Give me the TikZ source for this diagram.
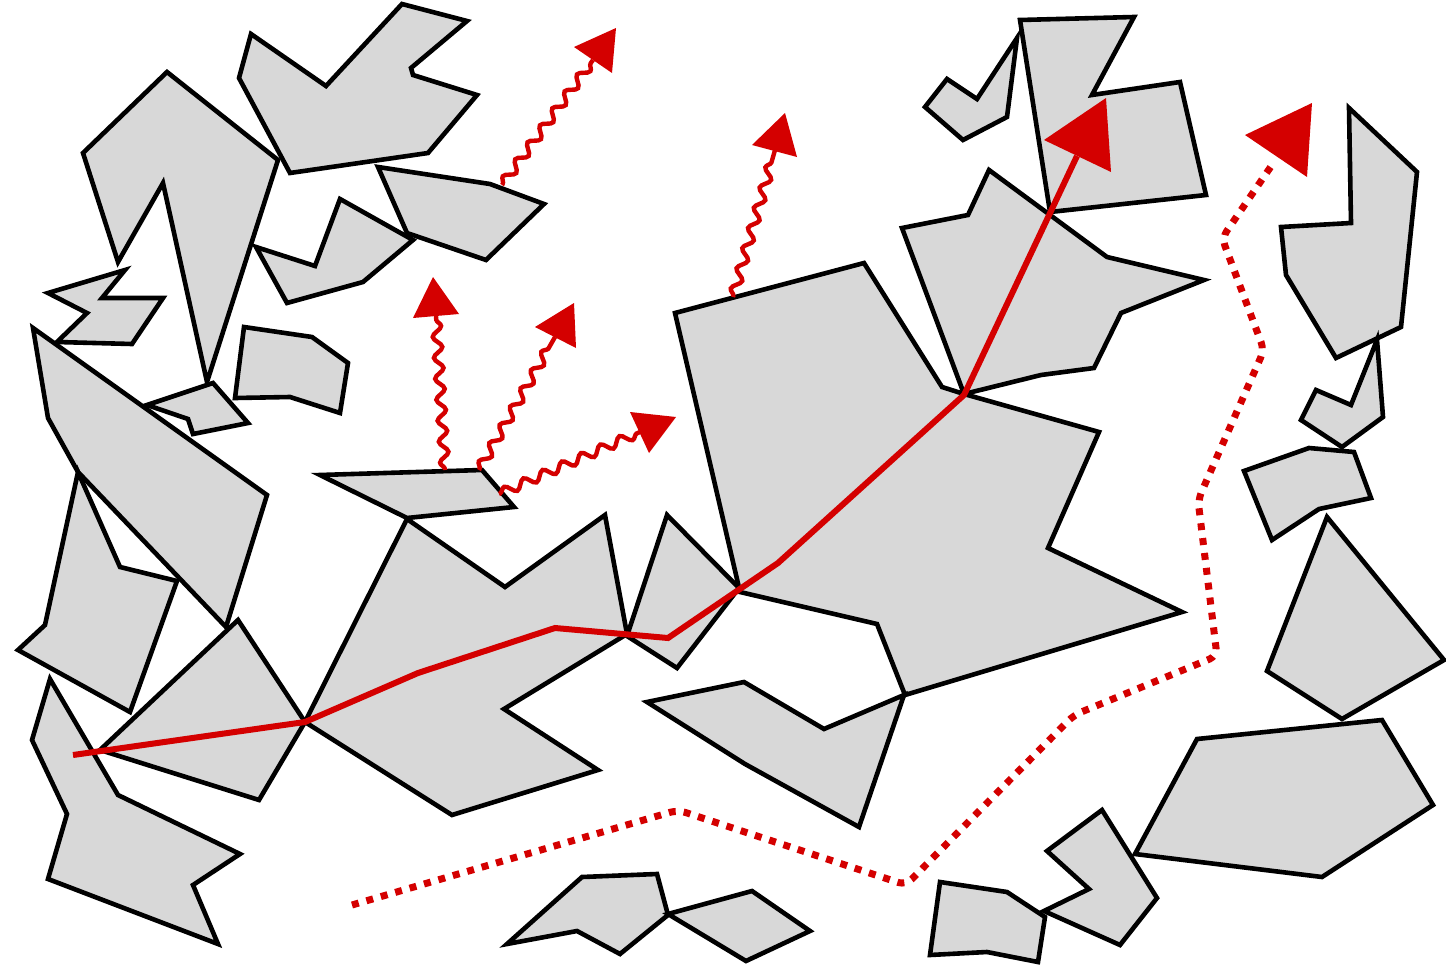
\documentclass[tikz,border=0pt]{standalone}
\usetikzlibrary{decorations.pathmorphing}
\definecolor{pgray}{RGB}{216,216,216}
\definecolor{pred}{RGB}{212,0,0}
\begin{document}
\begin{tikzpicture}[x=1pt,y=-1pt,
  poly/.style={draw=black, fill=pgray, line width=4.6pt, line join=miter},
  solidpath/.style={draw=pred, line width=6pt},
  dotpath/.style={draw=pred, line width=7pt, dash pattern=on 7pt off 8pt, rounded corners=8pt},
  wave/.style={draw=pred, line width=4.4pt, decorate,
    decoration={snake, amplitude=4.5pt, segment length=21pt, pre length=1pt, post length=3pt}},
  tipfill/.style={fill=pred}]
\useasboundingbox (0,0) rectangle (1446,964);
% polygons
\draw[poly] (167,72) -- (278,160) -- (207,382) -- (163,183) -- (118,262) -- (83,153) -- cycle;
\draw[poly] (251,34) -- (326,86) -- (402,4) -- (467,21) -- (411,68) -- (413,75) -- (477,95) -- (428,153) -- (290,173) -- (239,78) -- cycle;
\draw[poly] (378,167) -- (490,184) -- (544,204) -- (486,260) -- (407,233) -- cycle;
\draw[poly] (340,199) -- (413,240) -- (363,282) -- (287,303) -- (256,247) -- (315,266) -- cycle;
\draw[poly] (125,270) -- (102,298) -- (163,298) -- (132,344) -- (57,342) -- (87,313) -- (48,293) -- cycle;
\draw[poly] (244,327) -- (312,337) -- (348,363) -- (340,413) -- (290,397) -- (235,398) -- cycle;
\draw[poly] (147,405) -- (213,383) -- (248,423) -- (193,434) -- (188,419) -- cycle;
\draw[poly] (33,328) -- (267,495) -- (226,627) -- (78,472) -- (48,418) -- cycle;
\draw[poly] (78,472) -- (120,567) -- (177,581) -- (130,712) -- (18,650) -- (45,625) -- cycle;
\draw[poly] (50,679) -- (118,795) -- (240,854) -- (193,885) -- (218,944) -- (48,879) -- (67,814) -- (32,740) -- cycle;
\draw[poly] (238,620) -- (305,722) -- (259,800) -- (100,750) -- cycle;
\draw[poly] (407,519) -- (505,587) -- (605,515) -- (627,634) -- (504,709) -- (598,770) -- (452,815) -- (305,722) -- cycle;
\draw[poly] (320,475) -- (482,470) -- (514,507) -- (407,518) -- cycle;
\draw[poly] (667,515) -- (739,588) -- (677,668) -- (627,636) -- cycle;
\draw[poly] (675,313) -- (864,263) -- (942,387) -- (964,394) -- (1099,432) -- (1048,548) -- (1182,612) -- (905,695) -- (877,624) -- (740,592) -- cycle;
\draw[poly] (902,228) -- (968,215) -- (989,170) -- (1046,212) -- (1107,257) -- (1204,280) -- (1121,313) -- (1094,368) -- (1041,375) -- (964,394) -- cycle;
\draw[poly] (1020,20) -- (1134,17) -- (1092,95) -- (1180,82) -- (1206,195) -- (1050,212) -- cycle;
\draw[poly] (947,79) -- (977,99) -- (1017,38) -- (1007,117) -- (963,140) -- (925,107) -- cycle;
\draw[poly] (1349,108) -- (1417,172) -- (1401,327) -- (1336,358) -- (1286,275) -- (1281,227) -- (1351,223) -- cycle;
\draw[poly] (1377,340) -- (1383,417) -- (1342,447) -- (1301,420) -- (1316,390) -- (1351,405) -- cycle;
\draw[poly] (1244,471) -- (1309,448) -- (1354,452) -- (1371,498) -- (1319,509) -- (1272,540) -- cycle;
\draw[poly] (1327,517) -- (1444,660) -- (1342,719) -- (1267,671) -- cycle;
\draw[poly] (1197,739) -- (1382,720) -- (1433,805) -- (1322,877) -- (1135,854) -- cycle;
\draw[poly] (1102,810) -- (1157,898) -- (1120,945) -- (1044,911) -- (1089,889) -- (1047,851) -- cycle;
\draw[poly] (940,882) -- (1007,892) -- (1045,917) -- (1038,962) -- (987,952) -- (930,955) -- cycle;
\draw[poly] (582,877) -- (657,874) -- (668,915) -- (620,954) -- (577,931) -- (507,944) -- cycle;
\draw[poly] (668,914) -- (752,891) -- (810,931) -- (746,961) -- cycle;
\draw[poly] (647,702) -- (744,682) -- (824,729) -- (904,695) -- (859,827) -- (745,764) -- cycle;
% solid red path
\coordinate (s0) at (73,755);
\coordinate (s1) at (305,722);
\coordinate (s2) at (418,673);
\coordinate (s3) at (555,628);
\coordinate (s4) at (668,638);
\coordinate (s5) at (778,563);
\coordinate (s6) at (964,395);
\coordinate (s7) at (1077,156);
\draw[solidpath] (s0) -- (s1) -- (s2) -- (s3) -- (s4) -- (s5) -- (s6) -- (s7);
\fill[tipfill] (1106,98) -- (1044,140) -- (1111,172) -- cycle;
% dotted red path
\coordinate (d0) at (352,905);
\coordinate (d1) at (678,810);
\coordinate (d2) at (906,885);
\coordinate (d3) at (1074,715);
\coordinate (d4) at (1217,656);
\coordinate (d5) at (1198,500);
\coordinate (d6) at (1264,350);
\coordinate (d7) at (1222,238);
\coordinate (d8) at (1274,162);
\draw[dotpath] (d0) -- (d1) -- (d2) -- (d3) -- (d4) -- (d5) -- (d6) -- (d7) -- (d8);
\fill[tipfill] (1245,135) -- (1312,103) -- (1307,177) -- cycle;
% wavy arrows
\coordinate (w1a) at (445,470);
\coordinate (w1b) at (436,316);
\draw[wave] (w1a) -- (w1b);
\fill[tipfill] (433,277) -- (413,318) -- (459,314) -- cycle;
\coordinate (w2a) at (479,470);
\coordinate (w2b) at (555,337);
\draw[wave] (w2a) -- (w2b);
\fill[tipfill] (574,303) -- (535,327) -- (576,348) -- cycle;
\coordinate (w3a) at (499,494);
\coordinate (w3b) at (640,432);
\draw[wave] (w3a) -- (w3b);
\fill[tipfill] (676,417) -- (630,412) -- (649,453) -- cycle;
\coordinate (w4a) at (502,185);
\coordinate (w4b) at (593,60);
\draw[wave] (w4a) -- (w4b);
\fill[tipfill] (616,28) -- (574,47) -- (612,73) -- cycle;
\coordinate (w5a) at (733,297);
\coordinate (w5b) at (775,150);
\draw[wave] (w5a) -- (w5b);
\fill[tipfill] (785,113) -- (752,145) -- (797,157) -- cycle;
\end{tikzpicture}
\end{document}
